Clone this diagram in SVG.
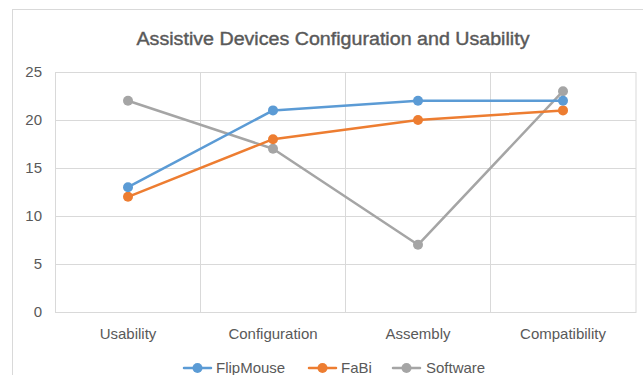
<svg xmlns="http://www.w3.org/2000/svg" width="643" height="375" viewBox="0 0 643 375">
  <style>
    .frame { fill: #ffffff; stroke: #d9d9d9; stroke-width: 1; }
    .grid { stroke: #d9d9d9; stroke-width: 1; fill: none; }
    .txt { font-family: "Liberation Sans", Arial, sans-serif; fill: #595959; }
    .title { font-size: 18px; stroke: #595959; stroke-width: 0.4; }
    .tick { font-size: 15px; }
    .series { fill: none; stroke-width: 2.5; stroke-linejoin: round; stroke-linecap: round; }
    .flip { stroke: #5b9bd5; }
    .fabi { stroke: #ed7d31; }
    .soft { stroke: #a5a5a5; }
    .dot-flip { fill: #5b9bd5; }
    .dot-fabi { fill: #ed7d31; }
    .dot-soft { fill: #a5a5a5; }
  </style>
  <defs>
    <circle id="dot" r="5"/>
  </defs>

  <rect width="643" height="375" fill="#ffffff"/>
  <!-- chart area border -->
  <rect class="frame" x="12.5" y="9.5" width="640" height="380"/>

  <text class="txt title" x="333" y="45" text-anchor="middle" textLength="393" lengthAdjust="spacingAndGlyphs">Assistive Devices Configuration and Usability</text>

  <!-- plot area: x 55..636, y 72..312 (9.6 px per unit) -->
  <g id="plot-grid">
    <rect class="grid" x="55.5" y="72.5" width="580.5" height="240"/>
    <line class="grid" x1="55.5" y1="120.5" x2="636" y2="120.5"/>
    <line class="grid" x1="55.5" y1="168.5" x2="636" y2="168.5"/>
    <line class="grid" x1="55.5" y1="216.5" x2="636" y2="216.5"/>
    <line class="grid" x1="55.5" y1="264.5" x2="636" y2="264.5"/>
    <line class="grid" x1="200.5" y1="72.5" x2="200.5" y2="312.5"/>
    <line class="grid" x1="345.5" y1="72.5" x2="345.5" y2="312.5"/>
    <line class="grid" x1="490.5" y1="72.5" x2="490.5" y2="312.5"/>
  </g>

  <g id="y-axis" class="txt tick" text-anchor="end">
    <text x="42" y="77">25</text>
    <text x="42" y="125">20</text>
    <text x="42" y="173">15</text>
    <text x="42" y="221">10</text>
    <text x="42" y="269">5</text>
    <text x="42" y="317">0</text>
  </g>

  <g id="x-axis" class="txt tick" text-anchor="middle">
    <text x="128" y="339">Usability</text>
    <text x="273" y="339">Configuration</text>
    <text x="418" y="339">Assembly</text>
    <text x="563" y="339">Compatibility</text>
  </g>

  <g id="connectors">
    <polyline id="line-software" class="series soft" points="128,100.8 273,148.8 418,244.8 563,91.2"/>
    <polyline id="line-fabi" class="series fabi" points="128,196.8 273,139.2 418,120 563,110.4"/>
    <polyline id="line-flipmouse" class="series flip" points="128,187.2 273,110.4 418,100.8 563,100.8"/>
  </g>

  <g id="points-software" class="dot-soft">
    <use href="#dot" x="128" y="100.8"/>
    <use href="#dot" x="273" y="148.8"/>
    <use href="#dot" x="418" y="244.8"/>
    <use href="#dot" x="563" y="91.2"/>
  </g>
  <g id="points-fabi" class="dot-fabi">
    <use href="#dot" x="128" y="196.8"/>
    <use href="#dot" x="273" y="139.2"/>
    <use href="#dot" x="418" y="120"/>
    <use href="#dot" x="563" y="110.4"/>
  </g>
  <g id="points-flipmouse" class="dot-flip">
    <use href="#dot" x="128" y="187.2"/>
    <use href="#dot" x="273" y="110.4"/>
    <use href="#dot" x="418" y="100.8"/>
    <use href="#dot" x="563" y="100.8"/>
  </g>

  <g id="legend">
    <g id="legend-flipmouse">
      <line class="series flip" x1="184" y1="368" x2="211" y2="368"/>
      <use href="#dot" class="dot-flip" x="197.5" y="368"/>
      <text class="txt tick" x="216" y="373">FlipMouse</text>
    </g>
    <g id="legend-fabi">
      <line class="series fabi" x1="309" y1="368" x2="336" y2="368"/>
      <use href="#dot" class="dot-fabi" x="322.5" y="368"/>
      <text class="txt tick" x="341" y="373">FaBi</text>
    </g>
    <g id="legend-software">
      <line class="series soft" x1="393" y1="368" x2="420" y2="368"/>
      <use href="#dot" class="dot-soft" x="406.5" y="368"/>
      <text class="txt tick" x="426" y="373">Software</text>
    </g>
  </g>
</svg>
